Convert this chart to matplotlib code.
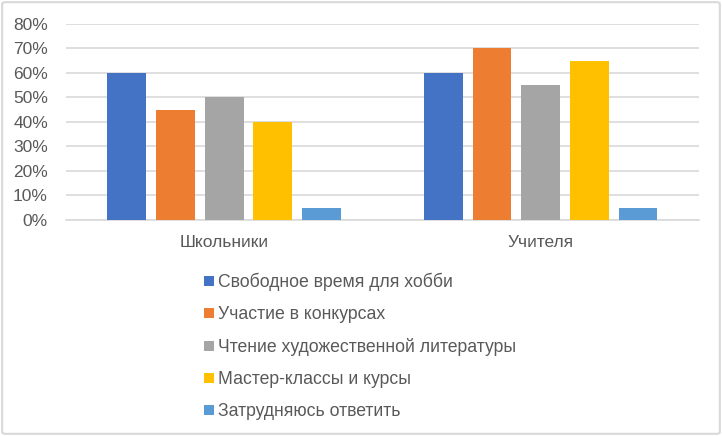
import matplotlib.pyplot as plt
import numpy as np
from matplotlib.patches import FancyBboxPatch, Patch
from matplotlib.ticker import PercentFormatter

# ── Data ──
groups = ["Школьники", "Учителя"]
series = [
    "Свободное время для хобби",
    "Участие в конкурсах",
    "Чтение художественной литературы",
    "Мастер-классы и курсы",
    "Затрудняюсь ответить",
]
values = [
    [60, 60],
    [45, 70],
    [50, 55],
    [40, 65],
    [5, 5],
]
colors = ["#4472C4", "#ED7D31", "#A5A5A5", "#FFC000", "#5B9BD5"]

plt.rcParams["font.family"] = ["Liberation Sans", "DejaVu Sans"]
text_color = "#595959"
grid_color = "#D9D9D9"

fig = plt.figure(figsize=(7.22, 4.36), dpi=100)
ax = fig.add_axes([0.0914, 0.4954, 0.8766, 0.4502])

x = np.arange(len(groups))
width = 0.123
step = 0.1538
for i, (name, vals, col) in enumerate(zip(series, values, colors)):
    ax.bar(x + (i - 2) * step, vals, width=width, color=col, label=name, zorder=3)

ax.set_xlim(-0.5, 1.5)
ax.set_ylim(0, 80)
ax.set_yticks(range(0, 81, 10))
ax.yaxis.set_major_formatter(PercentFormatter(decimals=0))
ax.set_xticks(x)
ax.set_xticklabels(groups)
ax.grid(axis="y", color=grid_color, linewidth=1.2, zorder=0)
for s in ["top", "right", "left"]:
    ax.spines[s].set_visible(False)
ax.spines["bottom"].set_color(grid_color)
ax.spines["bottom"].set_linewidth(1.2)
ax.tick_params(axis="both", length=0, labelsize=12.5, labelcolor=text_color)
ax.tick_params(axis="x", pad=11)
ax.tick_params(axis="y", pad=13)

handles = [Patch(facecolor=c, edgecolor="none") for c in colors]
leg = fig.legend(handles, series, loc="upper left", bbox_to_anchor=(0.273, 0.39),
                 frameon=False, fontsize=12.7, handlelength=0.55, handleheight=0.55,
                 handletextpad=0.25, labelspacing=0.85, borderaxespad=0)
for t in leg.get_texts():
    t.set_color(text_color)

border = FancyBboxPatch((0.003, 0.005), 0.994, 0.99, boxstyle="round,pad=0,rounding_size=0.004",
                        transform=fig.transFigure, fill=False, edgecolor=grid_color, linewidth=1.5)
fig.patches.append(border)

fig.savefig("out.png", dpi=100)
